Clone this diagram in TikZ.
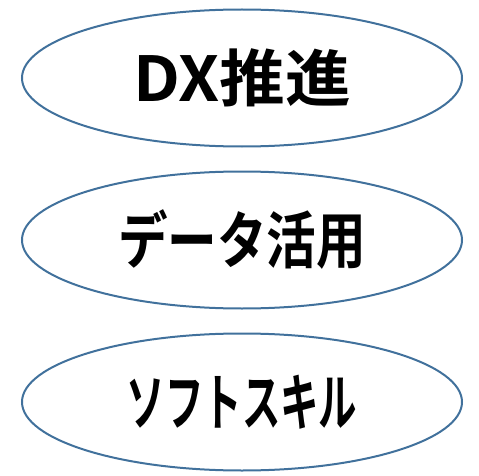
\documentclass[tikz,border=0pt]{standalone}
\usepackage{fontspec}
\usetikzlibrary{shapes.geometric}
\newfontfamily\jpfont[BoldFont={Noto Sans CJK JP Bold}]{Noto Sans CJK JP}
\definecolor{ovalblue}{HTML}{41719C}

\begin{document}
\begin{tikzpicture}[x=1pt, y=1pt,
    skill oval/.style={ellipse, draw=ovalblue, line width=2pt,
      minimum width=440pt, minimum height=137pt, inner sep=0pt,
      font=\jpfont\bfseries\fontsize{62}{62}\selectfont}]
      \useasboundingbox (0,0) rectangle (479,-476);

      % the three ovals, top to bottom
      \foreach \t/\s [count=\i] in {{DX推進}/1.06, {データ活用}/0.8, {ソフトスキル}/0.62}
        \node [skill oval] (oval-\i) at (242,84-\i*162) {\scalebox{\s}[1]{\t}};
    \end{tikzpicture}
\end{document}
